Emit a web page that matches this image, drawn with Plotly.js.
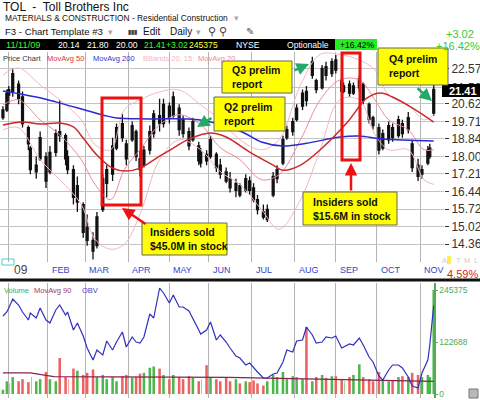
<!DOCTYPE html>
<html><head><meta charset="utf-8">
<script src="https://cdn.plot.ly/plotly-3.0.1.min.js"></script>
<style>html,body{margin:0;padding:0;background:#fff;}#chart{width:480px;height:400px;}</style>
</head><body><div id="chart"></div>
<script>
// ---- data ----
const dates = [
 '2008-12-29','2008-12-31','2009-01-02','2009-01-06','2009-01-09','2009-01-13','2009-01-16','2009-01-20','2009-01-23','2009-01-27','2009-01-30',
 '2009-02-03','2009-02-06','2009-02-10','2009-02-13','2009-02-17','2009-02-20','2009-02-24','2009-02-27',
 '2009-03-03','2009-03-06','2009-03-10','2009-03-13','2009-03-17','2009-03-20','2009-03-24','2009-03-27','2009-03-31',
 '2009-04-03','2009-04-07','2009-04-09','2009-04-14','2009-04-17','2009-04-21','2009-04-24','2009-04-28',
 '2009-05-01','2009-05-05','2009-05-08','2009-05-12','2009-05-15','2009-05-19','2009-05-22','2009-05-26','2009-05-29',
 '2009-06-02','2009-06-05','2009-06-09','2009-06-12','2009-06-16','2009-06-19','2009-06-23','2009-06-26','2009-06-30',
 '2009-07-02','2009-07-07','2009-07-10','2009-07-14','2009-07-17','2009-07-21','2009-07-24','2009-07-28','2009-07-31',
 '2009-08-04','2009-08-07','2009-08-11','2009-08-14','2009-08-18','2009-08-21','2009-08-25','2009-08-28',
 '2009-09-01','2009-09-04','2009-09-08','2009-09-11','2009-09-15','2009-09-18','2009-09-22','2009-09-25','2009-09-29',
 '2009-10-02','2009-10-06','2009-10-09','2009-10-13','2009-10-16','2009-10-20','2009-10-23','2009-10-27','2009-10-30',
 '2009-11-03','2009-11-06','2009-11-09','2009-11-11'];
const openP = [
 19.9,20.3,21.1,21.3,21.7,21.0,19.4,18.4,17.3,17.9,18.0,
 17.3,18.2,19.2,19.0,18.0,17.4,16.0,15.9,
 15.0,14.5,14.3,15.7,16.8,17.2,18.4,19.6,18.6,
 18.8,19.2,17.9,17.6,18.3,19.1,20.0,19.6,
 20.5,20.0,20.4,19.8,19.2,18.8,18.5,17.7,18.1,
 18.0,18.1,17.6,17.3,17.0,16.5,16.7,16.5,16.9,
 16.6,16.1,15.6,15.3,16.3,17.0,17.7,18.9,19.2,
 19.8,20.5,21.3,22.2,21.9,21.5,22.7,22.3,
 23.1,21.9,21.3,21.7,21.2,21.5,21.7,20.6,19.9,
 19.4,18.4,18.8,19.4,19.0,19.6,19.3,18.6,17.6,
 17.2,17.7,18.0,20.14];
const highP = [
 20.5,21.4,21.6,22.6,21.9,21.3,19.5,18.5,18.0,19.2,18.2,
 18.5,19.3,20.8,19.1,18.3,17.6,17.1,16.0,
 15.5,14.8,15.6,17.2,17.6,18.9,19.6,20.1,18.8,
 19.7,19.3,18.3,18.5,19.5,20.3,20.9,20.9,
 20.7,21.3,20.6,20.0,19.4,19.9,18.7,18.4,18.3,
 19.0,18.2,17.9,17.5,17.3,17.0,16.8,17.2,17.1,
 16.8,16.3,15.9,15.9,17.3,17.6,19.0,19.5,19.9,
 20.6,21.4,21.6,23.3,22.0,22.8,23.0,23.2,
 23.4,22.0,21.8,21.9,21.8,22.2,21.8,20.7,20.0,
 19.6,19.3,19.7,19.6,20.0,19.8,20.2,18.8,17.9,
 17.6,18.5,18.6,21.80];
const lowP = [
 19.8,20.2,20.6,21.0,20.6,19.4,18.3,17.2,17.0,17.8,16.6,
 17.2,18.0,18.7,17.6,17.2,15.9,15.6,14.6,
 14.3,13.8,14.2,15.6,16.2,16.9,18.3,18.7,17.6,
 18.7,17.8,17.1,17.5,18.1,18.9,19.2,19.4,
 19.6,19.9,19.0,18.9,18.3,18.7,17.6,17.5,17.6,
 17.9,17.3,17.0,16.8,16.4,16.2,16.2,16.4,16.3,
 16.0,15.5,15.3,15.2,16.2,16.8,17.6,18.8,19.0,
 19.7,20.3,20.5,22.0,21.2,21.4,21.9,22.1,
 22.3,21.1,21.2,21.0,21.1,21.3,20.6,19.6,19.3,
 18.1,18.3,18.6,18.7,18.9,18.9,19.1,17.3,16.9,
 17.0,17.6,17.9,20.00];
const closeP = [
 20.3,21.2,21.4,22.3,20.9,19.6,18.6,17.4,17.6,18.9,16.9,
 18.2,19.1,19.0,17.9,17.4,16.2,16.7,14.8,
 14.5,14.1,15.4,17.0,17.4,18.5,19.4,18.9,17.9,
 19.5,18.0,17.4,18.3,19.2,20.1,19.6,20.6,
 19.9,21.0,19.3,19.1,18.5,19.7,17.8,18.2,17.8,
 18.8,17.5,17.2,16.9,16.6,16.8,16.3,17.0,16.5,
 16.1,15.7,15.4,15.7,17.1,17.4,18.8,19.3,19.7,
 20.4,21.2,20.8,23.0,21.4,22.6,22.2,23.0,
 22.5,21.3,21.6,21.2,21.6,22.0,20.8,19.8,19.5,
 18.3,19.1,19.5,18.9,19.8,19.1,19.9,17.5,17.1,
 17.4,18.3,18.39,21.41];
const volume = [
 10000,30000,25000,40000,30000,35000,28000,40000,30000,35000,52000,
 35000,30000,85000,40000,35000,60000,55000,45000,
 50000,58000,40000,45000,35000,40000,30000,42000,45000,
 38000,40000,48000,50000,62000,65000,60000,45000,
 35000,45000,40000,35000,42000,38000,30000,35000,68000,
 40000,35000,30000,38000,30000,35000,25000,30000,28000,
 32000,25000,20000,30000,45000,40000,52000,35000,42000,
 40000,35000,158000,30000,40000,45000,38000,42000,
 42000,35000,30000,40000,45000,70000,40000,35000,30000,
 52000,35000,30000,32000,40000,42000,40000,50000,45000,
 40000,45000,40000,245375];
// On-balance volume, relative units (no scale shown in the reference)
const obv = [
 84,88,92,101,95,88,80,87,82,92,80,
 77,90,95,85,88,70,77,64,
 52,40,50,45,59,50,58,68,53,
 63,58,57,63,86,82,112,107,
 97,105,93,93,89,82,70,66,70,
 78,60,65,58,52,44,42,35,37,
 32,28,22,22,26,27,38,50,48,
 59,60,73,65,57,58,63,62,
 64,52,53,56,55,62,55,43,38,
 24,20,30,35,35,32,23,14,12,
 27,40,55,95];
const ma50Dates = ['2008-12-29','2009-01-13','2009-01-27','2009-02-10','2009-02-20','2009-02-27','2009-03-10','2009-03-20','2009-03-31','2009-04-09','2009-04-24','2009-05-05','2009-05-15','2009-06-02','2009-06-12','2009-06-30','2009-07-17','2009-07-24','2009-08-06','2009-08-21','2009-09-10','2009-09-24','2009-10-05','2009-10-13','2009-10-27','2009-11-11'];
const ma50 = [19.53,19.68,19.58,19.63,19.43,18.88,18.07,17.47,17.34,17.47,18.02,18.40,18.83,19.13,18.93,18.21,17.61,17.38,17.61,18.40,19.68,20.94,21.21,20.99,20.41,19.68];
const ma200Dates = ['2008-12-29','2009-01-23','2009-02-06','2009-03-13','2009-03-24','2009-04-17','2009-05-22','2009-06-23','2009-07-09','2009-07-24','2009-08-11','2009-09-03','2009-09-18','2009-10-06','2009-11-11'];
const ma200 = [21.32,20.99,20.73,20.04,19.89,19.84,19.79,19.23,18.69,18.50,18.63,18.93,18.98,18.83,18.74];
const bbDates = ['2008-12-29','2009-01-09','2009-01-27','2009-02-10','2009-02-26','2009-03-09','2009-03-19','2009-03-30','2009-04-09','2009-04-24','2009-05-08','2009-05-26','2009-06-09','2009-06-23','2009-07-09','2009-07-22','2009-08-06','2009-08-20','2009-09-03','2009-09-18','2009-09-30','2009-10-09','2009-10-23','2009-11-04','2009-11-11'];
const bbUpper = [22.22,22.63,21.66,20.84,19.79,18.56,18.32,20.31,20.84,21.27,21.38,20.57,19.79,18.80,18.32,18.80,21.66,23.43,23.43,23.10,22.51,21.10,20.57,19.79,20.05];
const ma20    = [20.57,20.84,19.79,19.04,17.86,16.75,16.11,17.40,18.32,19.54,20.05,19.54,18.42,17.86,16.96,17.18,18.80,20.84,21.94,21.94,20.84,19.79,19.29,18.32,18.32];
const bbLower = [19.29,19.39,17.86,16.96,15.91,14.54,14.17,14.35,15.50,17.86,18.80,18.32,17.31,16.75,15.70,14.92,16.11,18.32,20.84,20.84,19.04,18.32,18.32,16.96,16.75];
const volMaDates = ['2008-12-29','2009-01-20','2009-02-05','2009-03-10','2009-05-01','2009-06-15','2009-08-03','2009-09-15','2009-10-15','2009-11-11'];
const volMa90 = [50000,50000,41000,40000,40000,39000,36000,34000,31000,30000];
const priceTicks = [14.36,15.02,15.72,16.44,17.21,18.00,18.84,19.71,20.62,21.50,22.57];
const priceTickText = ['14.36','15.02','15.72','16.44','17.21','18.00','18.84','19.71','20.62','21.50','22.57'];
const monthStarts = ['2009-01-02','2009-02-02','2009-03-02','2009-04-01','2009-05-01','2009-06-01','2009-07-01','2009-08-03','2009-09-01','2009-10-01','2009-11-02'];
const monthLabels = ['09','FEB','MAR','APR','MAY','JUN','JUL','AUG','SEP','OCT','NOV'];
const volTicks = [0,122688,245375];
const volTickText = ['0','122688','245375'];

// ---- layout helpers (pixel -> paper) ----
const W = 480, H = 400;
const X = p => p / W;
const Y = p => 1 - p / H;
const FONT = 'Liberation Sans, Arial, sans-serif';

const volColors = closeP.map((c, i) => c >= openP[i] ? '#4cb84c' : '#ec6262');

const traces = [
  {type:'scatter', mode:'lines', x:bbDates, y:bbUpper, xaxis:'x', yaxis:'y', line:{color:'#f2b8c0', width:1, shape:'spline'}, hoverinfo:'skip'},
  {type:'scatter', mode:'lines', x:bbDates, y:bbLower, xaxis:'x', yaxis:'y', line:{color:'#f2b8c0', width:1, shape:'spline'}, hoverinfo:'skip'},
  {type:'scatter', mode:'lines', x:bbDates, y:ma20, xaxis:'x', yaxis:'y', line:{color:'#e88c9c', width:1, shape:'spline'}, hoverinfo:'skip'},
  {type:'scatter', mode:'lines', x:ma200Dates, y:ma200, xaxis:'x', yaxis:'y', line:{color:'#2a2ad0', width:1.5, shape:'spline'}, hoverinfo:'skip'},
  {type:'scatter', mode:'lines', x:ma50Dates, y:ma50, xaxis:'x', yaxis:'y', line:{color:'#d02828', width:1.5, shape:'spline'}, hoverinfo:'skip'},
  {type:'candlestick', x:dates, open:openP, high:highP, low:lowP, close:closeP, xaxis:'x', yaxis:'y',
   increasing:{line:{color:'#111', width:1.3}, fillcolor:'#111'}, decreasing:{line:{color:'#111', width:1.3}, fillcolor:'#111'}, whiskerwidth:0},
  {type:'bar', x:dates, y:volume, xaxis:'x2', yaxis:'y2', marker:{color:volColors, line:{width:0}}, width:1.3*86400000},
  {type:'scatter', mode:'lines', x:volMaDates, y:volMa90, xaxis:'x2', yaxis:'y2', line:{color:'#8a2050', width:1.2}},
  {type:'scatter', mode:'lines', x:dates, y:obv, xaxis:'x2', yaxis:'y3', line:{color:'#3030c0', width:1.2}}
];

const rb = [{bounds:['sat','mon']}, {values:['2008-12-25','2009-01-01','2009-01-19','2009-02-16','2009-04-10','2009-05-25','2009-07-03','2009-09-07']}];
const xRange = ['2008-12-24 12:00','2009-11-18 06:00'];
const xCommon = {type:'date', range:xRange, rangebreaks:rb, domain:[0, X(444)], tickvals:monthStarts,
  showticklabels:false, ticks:'', showgrid:true, gridcolor:'#b4b4b4', gridwidth:1, zeroline:false, showline:false,
  rangeslider:{visible:false}, fixedrange:true};

const shapes = [];
const rect = (x0,y0,x1,y1,fill,lineColor,lw) => shapes.push({type:'rect', xref:'paper', yref:'paper',
  x0:X(x0), x1:X(x1), y0:Y(y1), y1:Y(y0), fillcolor:fill, line:{color:lineColor||fill, width:lw===undefined?0:lw}, layer:'above'});
// header bar
rect(0,39,335,50,'#000000');
rect(335,39,377,50,'#22ee22');
// price-label box
rect(442,84,480,97,'#000000');
// red boxes
rect(102,98,141,205,'rgba(0,0,0,0)','#ee1111',3);
rect(342,53,360,160,'rgba(0,0,0,0)','#ee1111',3);
// yellow notes
rect(222,61,292,93,'#ffff00','#666666',1);
rect(214,97,285,131,'#ffff00','#666666',1);
rect(378,48,448,85,'#ffff00','#666666',1);
rect(142,223,227,255,'#ffff00','#666666',1);
rect(303,192,397,225,'#ffff00','#666666',1);
// misc
rect(447,256,451,264,'#ffee55');
rect(469,389,478,398,'#b8b8b8','#777777',1);
rect(2,259,14,265,'rgba(0,0,0,0)','#55cccc',1);
// panel separator
shapes.push({type:'line', xref:'paper', yref:'paper', x0:0, x1:1, y0:Y(280), y1:Y(280), line:{color:'#111', width:3}, layer:'above'});

const ann = [];
const txt = (s, x, y, size, color, opts) => ann.push(Object.assign({text:s, xref:'paper', yref:'paper', x:X(x), y:Y(y),
  xanchor:'left', yanchor:'middle', showarrow:false, font:{family:FONT, size:size, color:color}}, opts||{}));
// header
txt('TOL  -  Toll Brothers Inc', 1, 7, 12, '#111');
txt('MATERIALS &amp; CONSTRUCTION - Residential Construction', 3, 18, 8.4, '#111');
txt('▾', 232, 18, 9, '#aaa');
txt('F3 - Chart Template #3', 3, 32, 9.6, '#111');
txt('▾', 106, 32, 9, '#aaa');
txt('<b>▮▮▮</b>', 126, 32, 6, '#444');
txt('Edit', 141, 32, 10, '#111');
txt('Daily', 168, 32, 10, '#111');
txt('▾', 194, 32, 9, '#aaa');
txt('⚲', 206, 31, 11, '#444');
txt('⚲', 217, 31, 11, '#444');
txt('✎', 244, 32, 10, '#555');
// quote bar
const qf = 8.6;
txt('11/11/09', 4, 45, qf + 0.6, '#33ff33');
txt('20.14', 56, 45, qf, '#ffffff');
txt('21.80', 85, 45, qf, '#ffffff');
txt('20.00', 114, 45, qf, '#ffffff');
txt('21.41', 142, 45, qf, '#33ff33');
txt('+3.02', 164, 45, qf, '#33ff33');
txt('245375', 187, 45, qf, '#ffff44');
txt('NYSE', 234, 45, qf, '#ffffff');
txt('Optionable', 285, 45, qf, '#ffffff');
txt('+16.42%', 338, 45, qf, '#000000');
txt('+3.02', 444, 34, 11, '#33cc33');
txt('+16.42%', 434, 46, 11, '#33cc33');
// price legend
txt('Price Chart', 1, 58, 7.5, '#333');
txt('MovAvg 50', 45, 58, 7.5, '#dd3333');
txt('MovAvg 200', 91, 58, 7.5, '#3333cc');
txt('BBands 20, 15:', 141, 58, 7.5, '#f0b8c0');
txt('MovAvg 20', 196, 58, 7.5, '#e88c9c');
// notes
const noteFont = 10.5;
txt('<b>Q3 prelim<br>report</b>', 230, 77, noteFont, '#111', {align:'left'});
txt('<b>Q2 prelim<br>report</b>', 222, 114, noteFont, '#111', {align:'left'});
txt('<b>Q4 prelim<br>report</b>', 387, 66, noteFont, '#111', {align:'left'});
txt('<b>Insiders sold<br>$45.0M in stock</b>', 148, 239, noteFont, '#111', {align:'left'});
txt('<b>Insiders sold<br>$15.6M in stock</b>', 311, 208.5, noteFont, '#111', {align:'left'});
// price box + right markers
txt('<b>21.41</b>', 447, 90.5, 11, '#ffffff');
txt('A', 440, 260, 7.5, '#cccccc');
txt('T', 454, 260, 7.5, '#cccccc');
txt('M', 462, 260, 7.5, '#cccccc');
txt('L', 472, 260, 7.5, '#cccccc');
txt('4.59%', 445, 274, 11, '#dd2222');
// volume legend
txt('Volume', 2, 290, 7.5, '#44aa44');
txt('MovAvg 90', 32, 290, 7.5, '#9a3a7a');
txt('OBV', 80, 290, 7.5, '#4444cc');
// month labels
monthStarts.forEach((d, i) => ann.push({text:monthLabels[i], xref:'x', yref:'paper', x:d, y:Y(270),
  xanchor:'left', yanchor:'middle', xshift: i===0 ? 3 : 2, showarrow:false,
  font:{family:FONT, size: i===0 ? 12 : 9, color: i===0 ? '#444' : '#3344cc'}}));
// arrows
const arrow = (hx, hy, tx, ty, color) => ann.push({text:'', xref:'paper', yref:'paper', x:X(hx), y:Y(hy),
  ax:tx-hx, ay:ty-hy, showarrow:true, arrowhead:2, arrowsize:1, arrowwidth:2.5, arrowcolor:color, standoff:0, startstandoff:0});
arrow(309,64,293,71,'#22aa66');
arrow(197,127,213,117,'#22aa66');
arrow(432,101,416,87,'#22aa66');
arrow(122,208,147,225,'#ee1111');
arrow(351,163,351,192,'#ee1111');

const layout = {
  width: W, height: H, margin:{l:0, r:0, t:0, b:0}, paper_bgcolor:'#fff', plot_bgcolor:'#fff',
  showlegend:false, hovermode:false, font:{family:FONT},
  xaxis: Object.assign({anchor:'y'}, xCommon),
  xaxis2: Object.assign({anchor:'y2', matches:'x'}, xCommon),
  yaxis: {type:'log', domain:[Y(262), Y(52)], range:[Math.log10(13.71), Math.log10(23.58)], side:'right',
    tickvals:priceTicks, ticktext:priceTickText, ticks:'outside', ticklen:4, tickcolor:'#333',
    tickfont:{family:FONT, size:12, color:'#333'}, showgrid:true, gridcolor:'#c4c4c4', zeroline:false, showline:false, fixedrange:true},
  yaxis2: {domain:[Y(398), Y(283)], range:[-9436, 261890], side:'right', anchor:'free', position:X(434),
    tickvals:volTicks, ticktext:volTickText,
    ticks:'outside', ticklen:2, tickcolor:'#55aa55', tickfont:{family:FONT, size:8.5, color:'#55aa55'},
    showgrid:false, zeroline:false, showline:true, linecolor:'#55aa55', linewidth:1.5, fixedrange:true},
  yaxis3: {overlaying:'y2', range:[2,117], visible:false, fixedrange:true},
  shapes: shapes, annotations: ann
};
Plotly.newPlot('chart', traces, layout, {displayModeBar:false, staticPlot:true});
</script></body></html>
